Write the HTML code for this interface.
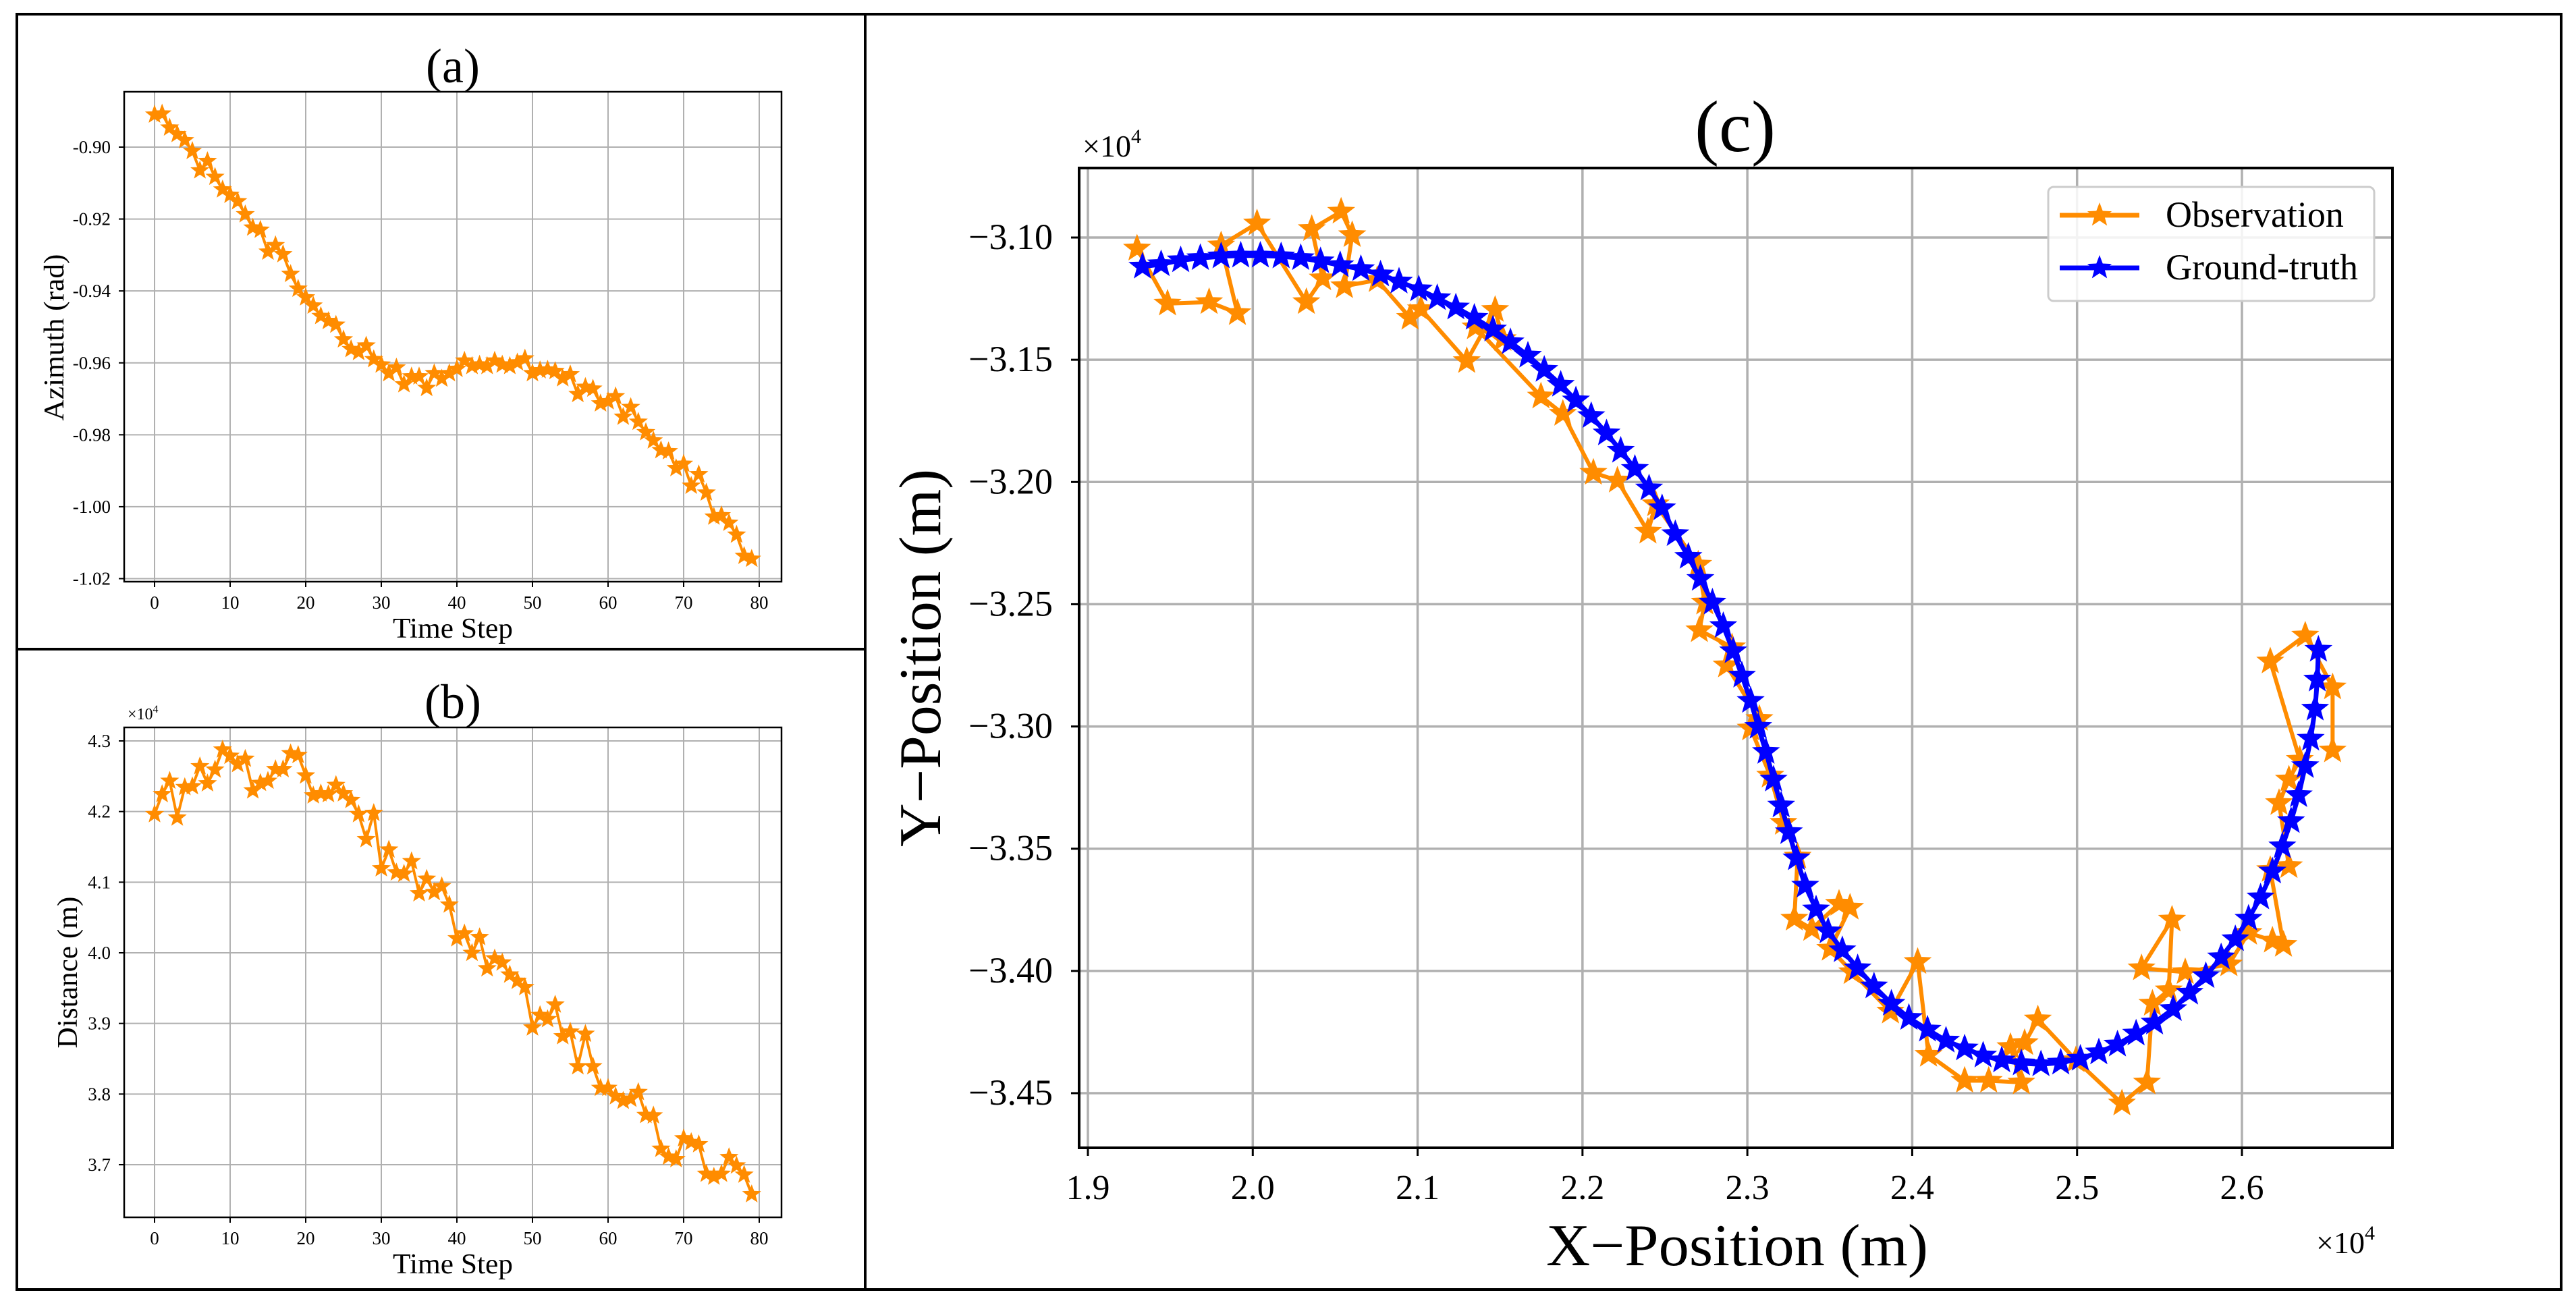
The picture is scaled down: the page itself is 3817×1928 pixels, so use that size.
<!DOCTYPE html>
<html><head><meta charset="utf-8"><style>body{margin:0;background:#fff}svg{display:block}text,tspan{font-family:"Liberation Serif","Times New Roman",serif;fill:#000}</style></head>
<body>
<svg id="fig" width="3817" height="1928" viewBox="0 0 3817 1928" xmlns="http://www.w3.org/2000/svg" font-family="Liberation Serif, serif">
<rect x="0" y="0" width="3817" height="1928" fill="#fff"/>
<rect x="25" y="21" width="3770" height="1890" fill="none" stroke="#000" stroke-width="4"/>
<line x1="1282" y1="21" x2="1282" y2="1911" stroke="#000" stroke-width="4"/>
<line x1="25" y1="962" x2="1282" y2="962" stroke="#000" stroke-width="4"/>
<g id="pa"></g>
<g id="pb"></g>
<g id="pc"></g>
</svg>
<script>
const timeSteps = Array.from({length:80},(_,i)=>i);
const azimuthValues = [-0.8910,-0.8907,-0.8946,-0.8964,-0.8981,-0.9011,-0.9065,-0.9039,-0.9083,-0.9118,-0.9133,-0.9151,-0.9187,-0.9224,-0.9230,-0.9291,-0.9273,-0.9298,-0.9353,-0.9394,-0.9418,-0.9441,-0.9470,-0.9484,-0.9494,-0.9535,-0.9562,-0.9570,-0.9552,-0.9590,-0.9605,-0.9629,-0.9613,-0.9660,-0.9638,-0.9638,-0.9670,-0.9629,-0.9644,-0.9629,-0.9617,-0.9594,-0.9609,-0.9605,-0.9609,-0.9594,-0.9605,-0.9609,-0.9599,-0.9588,-0.9629,-0.9621,-0.9619,-0.9623,-0.9643,-0.9632,-0.9687,-0.9667,-0.9672,-0.9713,-0.9707,-0.9693,-0.9750,-0.9723,-0.9764,-0.9793,-0.9816,-0.9843,-0.9846,-0.9893,-0.9881,-0.9942,-0.9910,-0.9961,-1.0028,-1.0024,-1.0045,-1.0078,-1.0137,-1.0145];
const distanceValues = [4.1962,4.2245,4.2434,4.1914,4.2345,4.2357,4.2640,4.2398,4.2593,4.2876,4.2788,4.2670,4.2746,4.2298,4.2404,4.2434,4.2599,4.2599,4.2823,4.2799,4.2510,4.2227,4.2257,4.2245,4.2375,4.2257,4.2162,4.1962,4.1608,4.1979,4.1195,4.1460,4.1136,4.1118,4.1295,4.0841,4.1047,4.0858,4.0941,4.0681,4.0204,4.0274,3.9997,4.0221,3.9779,3.9920,3.9861,3.9690,3.9602,3.9513,3.8941,3.9118,3.9059,3.9265,3.8817,3.8882,3.8392,3.8852,3.8392,3.8086,3.8086,3.7968,3.7903,3.7932,3.8027,3.7702,3.7696,3.7224,3.7112,3.7077,3.7372,3.7319,3.7289,3.6870,3.6829,3.6870,3.7106,3.6988,3.6858,3.6581];
const timeTicks = [0,10,20,30,40,50,60,70,80];
const azimuthTicks = [-0.90,-0.92,-0.94,-0.96,-0.98,-1.00,-1.02];
const azimuthTickLabels = ["-0.90","-0.92","-0.94","-0.96","-0.98","-1.00","-1.02"];
const distanceTicks = [4.3,4.2,4.1,4.0,3.9,3.8,3.7];
const distanceTickLabels = ["4.3","4.2","4.1","4.0","3.9","3.8","3.7"];
const gtX = [1.9331,1.9444,1.9563,1.9682,1.9808,1.9927,2.0046,2.0172,2.0291,2.0411,2.0530,2.0656,2.0775,2.0887,2.1007,2.1119,2.1232,2.1344,2.1457,2.1563,2.1669,2.1768,2.1868,2.1960,2.2053,2.2146,2.2232,2.2318,2.2404,2.2483,2.2563,2.2642,2.2715,2.2788,2.2854,2.2914,2.2967,2.3020,2.3066,2.3113,2.3159,2.3205,2.3252,2.3298,2.3351,2.3417,2.3490,2.3576,2.3669,2.3768,2.3874,2.3980,2.4093,2.4205,2.4318,2.4430,2.4543,2.4662,2.4781,2.4901,2.5020,2.5132,2.5245,2.5358,2.5470,2.5583,2.5682,2.5781,2.5874,2.5960,2.6040,2.6113,2.6185,2.6245,2.6298,2.6344,2.6384,2.6417,2.6444,2.6457,2.6464];
const gtY = [-3.1119,-3.1109,-3.1093,-3.1084,-3.1077,-3.1074,-3.1074,-3.1077,-3.1084,-3.1097,-3.1113,-3.1129,-3.1151,-3.1180,-3.1212,-3.1248,-3.1286,-3.1328,-3.1376,-3.1428,-3.1483,-3.1541,-3.1602,-3.1666,-3.1730,-3.1801,-3.1872,-3.1946,-3.2026,-3.2107,-3.2213,-3.2306,-3.2396,-3.2493,-3.2589,-3.2692,-3.2792,-3.2895,-3.3001,-3.3104,-3.3217,-3.3323,-3.3432,-3.3539,-3.3651,-3.3748,-3.3838,-3.3915,-3.3989,-3.4063,-3.4134,-3.4192,-3.4240,-3.4285,-3.4317,-3.4346,-3.4366,-3.4378,-3.4382,-3.4375,-3.4359,-3.4333,-3.4301,-3.4256,-3.4211,-3.4156,-3.4089,-3.4021,-3.3944,-3.3870,-3.3786,-3.3699,-3.3593,-3.3490,-3.3387,-3.3281,-3.3162,-3.3050,-3.2927,-3.2808,-3.2686];
const obsX = [1.9298,1.9483,1.9735,1.9907,1.9808,2.0026,2.0325,2.0424,2.0358,2.0536,2.0603,2.0556,2.0755,2.0954,2.1020,2.1298,2.1470,2.1517,2.1351,2.1748,2.1881,2.2066,2.2212,2.2397,2.2444,2.2702,2.2742,2.2709,2.2907,2.2874,2.3073,2.3020,2.3139,2.3219,2.3305,2.3285,2.3391,2.3556,2.3623,2.3503,2.3636,2.3868,2.4033,2.4099,2.4318,2.4464,2.4662,2.4596,2.4682,2.4762,2.4993,2.5272,2.5424,2.5457,2.5556,2.5576,2.5391,2.5656,2.5921,2.6040,2.6185,2.6252,2.6172,2.6285,2.6225,2.6285,2.6351,2.6172,2.6384,2.6550,2.6550];
const obsY = [-3.1045,-3.1270,-3.1264,-3.1309,-3.1032,-3.0942,-3.1264,-3.1167,-3.0965,-3.0894,-3.0990,-3.1199,-3.1174,-3.1328,-3.1293,-3.1505,-3.1296,-3.1415,-3.1367,-3.1650,-3.1721,-3.1962,-3.1994,-3.2203,-3.2091,-3.2338,-3.2493,-3.2606,-3.2676,-3.2750,-3.2969,-3.3008,-3.3201,-3.3394,-3.3532,-3.3786,-3.3828,-3.3725,-3.3741,-3.3909,-3.4005,-3.4166,-3.3963,-3.4343,-3.4449,-3.4449,-3.4456,-3.4311,-3.4295,-3.4198,-3.4365,-3.4542,-3.4456,-3.4134,-3.4079,-3.3790,-3.3989,-3.4005,-3.3973,-3.3844,-3.3876,-3.3893,-3.3587,-3.3571,-3.3313,-3.3217,-3.3136,-3.2734,-3.2628,-3.2840,-3.3098];
const posXTicks = [1.9,2.0,2.1,2.2,2.3,2.4,2.5,2.6];
const posXTickLabels = ["1.9","2.0","2.1","2.2","2.3","2.4","2.5","2.6"];
const posYTicks = [-3.10,-3.15,-3.20,-3.25,-3.30,-3.35,-3.40,-3.45];
const posYTickLabels = ["\u22123.10","\u22123.15","\u22123.20","\u22123.25","\u22123.30","\u22123.35","\u22123.40","\u22123.45"];

const NS="http://www.w3.org/2000/svg";
const FF="Liberation Serif, serif";
function mk(parent,tag,attrs,text){const e=document.createElementNS(NS,tag);for(const k in attrs)e.setAttribute(k,attrs[k]);if(tag==='text')e.setAttribute('font-family',FF);if(text!==undefined)e.textContent=text;parent.appendChild(e);return e;}
function lin(d0,d1,p0,p1){return v=>p0+(v-d0)*(p1-p0)/(d1-d0);}
function starPts(cx,cy,r){const p=[];for(let i=0;i<10;i++){const a=-Math.PI/2+i*Math.PI/5;const rr=i%2?r*0.42:r;p.push((cx+rr*Math.cos(a)).toFixed(1)+","+(cy+rr*Math.sin(a)).toFixed(1));}return p.join(" ");}

function series(g,xs,ys,sx,sy,color,lw,r,name){
  const pl=mk(g,'polyline',{points:xs.map((v,i)=>sx(v)+","+sy(ys[i])).join(" "),fill:"none",stroke:color,'stroke-width':lw,'stroke-linejoin':'round'});
  
  
  xs.forEach((v,i)=>{const s=mk(g,'polygon',{points:starPts(sx(v),sy(ys[i]),r),fill:color,stroke:color,'stroke-width':2});
    
    });
}

function small(gid,box,ys,yTicks,yLabels,sy,title,ylabel,ycx,xlabelY,titleY,mult){
  const g=document.getElementById(gid);
  const sx=lin(0,80,229,1125);
  timeTicks.forEach(t=>{const l=mk(g,'line',{x1:sx(t),x2:sx(t),y1:box.t,y2:box.b,stroke:'#b0b0b0','stroke-width':2});
    
    mk(g,'line',{x1:sx(t),x2:sx(t),y1:box.b,y2:box.b+8,stroke:'#000','stroke-width':2});
    const tx=mk(g,'text',{x:sx(t),y:box.b+40,'text-anchor':'middle','font-size':27},String(t));
    });
  yTicks.forEach((v,i)=>{const l=mk(g,'line',{x1:box.l,x2:box.r,y1:sy(v),y2:sy(v),stroke:'#b0b0b0','stroke-width':2});
    
    mk(g,'line',{x1:box.l-8,x2:box.l,y1:sy(v),y2:sy(v),stroke:'#000','stroke-width':2});
    const tx=mk(g,'text',{x:box.l-20,y:sy(v)+9,'text-anchor':'end','font-size':27},yLabels[i]);
    });
  series(g,timeSteps,ys,sx,sy,'#FF8C00',4,12,gid+'-observation');
  const fr=mk(g,'rect',{x:box.l,y:box.t,width:box.r-box.l,height:box.b-box.t,fill:'none',stroke:'#000','stroke-width':2.5});
  
  const ti=mk(g,'text',{x:671,y:titleY,'text-anchor':'middle','font-size':72},title);
  
  const xl=mk(g,'text',{x:671,y:xlabelY,'text-anchor':'middle','font-size':42,textLength:178,lengthAdjust:'spacingAndGlyphs'},'Time Step');
  
  const yl=mk(g,'text',{x:0,y:0,'text-anchor':'middle','font-size':42,transform:`translate(${ycx[0]},${ycx[1]}) rotate(-90)`,textLength:ycx[2],lengthAdjust:'spacingAndGlyphs'},ylabel);
  
  if(mult){const m=mk(g,'text',{x:189,y:box.t-12,'font-size':24},'\u00d710');
    
    mk(m,'tspan',{dy:-10,'font-size':16},'4');}
}

const boxA={l:184,r:1158,t:136,b:862};
small('pa',boxA,azimuthValues,azimuthTicks,azimuthTickLabels,lin(-0.90,-1.02,218,857.5),'(a)','Azimuth (rad)',[94,500,247],945,122,false);
const boxB={l:184,r:1158,t:1078,b:1804};
small('pb',boxB,distanceValues,distanceTicks,distanceTickLabels,lin(4.3,3.7,1098,1726),'(b)','Distance (m)',[114,1441,225],1887,1064,true);

(function(){
  const g=document.getElementById('pc');
  const box={l:1599,r:3545,t:249,b:1701};
  const sx=lin(1.9,2.6,1612,3322), sy=lin(-3.10,-3.45,352,1620);
  posXTicks.forEach((v,i)=>{const l=mk(g,'line',{x1:sx(v),x2:sx(v),y1:box.t,y2:box.b,stroke:'#b0b0b0','stroke-width':3.5});
    
    mk(g,'line',{x1:sx(v),x2:sx(v),y1:box.b,y2:box.b+12,stroke:'#000','stroke-width':3});
    const tx=mk(g,'text',{x:sx(v),y:1777,'text-anchor':'middle','font-size':52},posXTickLabels[i]);
    });
  posYTicks.forEach((v,i)=>{const l=mk(g,'line',{x1:box.l,x2:box.r,y1:sy(v),y2:sy(v),stroke:'#b0b0b0','stroke-width':3.5});
    
    mk(g,'line',{x1:box.l-12,x2:box.l,y1:sy(v),y2:sy(v),stroke:'#000','stroke-width':3});
    const tx=mk(g,'text',{x:1560,y:sy(v)+17,'text-anchor':'end','font-size':54},posYTickLabels[i]);
    });
  series(g,obsX,obsY,sx,sy,'#FF8C00',6,19,'observation');
  series(g,gtX,gtY,sx,sy,'#0000FF',7,19,'ground-truth');
  const fr=mk(g,'rect',{x:box.l,y:box.t,width:box.r-box.l,height:box.b-box.t,fill:'none',stroke:'#000','stroke-width':4});
  
  const ti=mk(g,'text',{x:2571,y:224,'text-anchor':'middle','font-size':108},'(c)');
  
  const m1=mk(g,'text',{x:1604,y:232,'font-size':46},'\u00d710');
  
  mk(m1,'tspan',{dy:-20,'font-size':30},'4');
  const m2=mk(g,'text',{x:3432,y:1857,'font-size':46},'\u00d710');
  
  mk(m2,'tspan',{dy:-20,'font-size':30},'4');
  const xl=mk(g,'text',{x:2574,y:1875,'text-anchor':'middle','font-size':88,textLength:566,lengthAdjust:'spacingAndGlyphs'},'X\u2212Position (m)');
  
  const yl=mk(g,'text',{x:0,y:0,'text-anchor':'middle','font-size':88,transform:'translate(1393,975) rotate(-90)',textLength:560,lengthAdjust:'spacingAndGlyphs'},'Y\u2212Position (m)');
  
  const lg=mk(g,'g',{});
  
  mk(lg,'rect',{x:3035,y:277,width:483,height:169,rx:8,fill:'#fff','fill-opacity':0.85,stroke:'#cccccc','stroke-width':3});
  [['Observation','#FF8C00',319],['Ground-truth','#0000FF',397]].forEach(([t,c,y])=>{
    const e=mk(lg,'g',{});
    
    mk(e,'line',{x1:3052,x2:3170,y1:y,y2:y,stroke:c,'stroke-width':7});
    mk(e,'polygon',{points:starPts(3111,y,19),fill:c});
    mk(e,'text',{x:3209,y:y+17,'font-size':54},t);
  });
})();
</script>
</body></html>
